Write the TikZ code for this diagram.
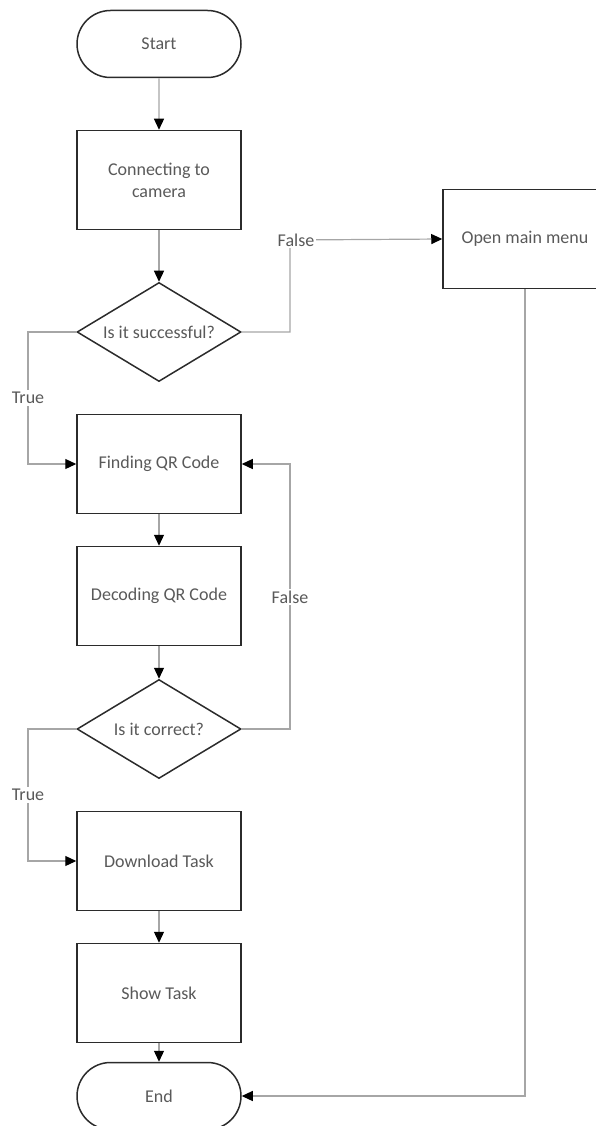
\documentclass[tikz,border=0pt]{standalone}
\usepackage{fontspec}
\setmainfont{Carlito}
\usetikzlibrary{arrows.meta, shapes.geometric, shapes.misc}
\definecolor{DGray}{HTML}{2B2B2B}
\definecolor{LGray}{HTML}{A6A6A6}
\definecolor{TGray}{HTML}{595959}

\begin{document}
\begin{tikzpicture}[x=1pt, y=-1pt,
    font=\fontsize{18}{22}\selectfont,
    box/.style={draw=DGray, line width=1.5pt, text=TGray, align=center,
        minimum width=164pt, minimum height=99pt, inner sep=0pt},
    terminal/.style={box, rounded rectangle, minimum height=67pt},
    decision/.style={box, diamond, aspect=1.66},
    flow/.style={LGray, line width=1.2pt,
        -{Triangle[length=11pt, width=10pt, color=black]}},
    lbl/.style={text=TGray, fill=white, inner sep=2pt}]
\useasboundingbox (0,0) rectangle (595,1126);

% main column
\node[terminal] (start) at (159,44) {Start};
\node[box] (connect) at (159,180) {Connecting to\\camera};
\node[decision] (succ) at (159,332) {Is it successful?};
\node[box] (find) at (159,464) {Finding QR Code};
\node[box] (decode) at (159,596) {Decoding QR Code};
\node[decision] (corr) at (159,729) {Is it correct?};
\node[box] (download) at (159,861) {Download Task};
\node[box] (show) at (159,993) {Show Task};
\node[terminal] (end) at (159,1096) {End};

% side branch
\node[box] (menu) at (525,239) {Open main menu};

\coordinate (succ-true) at (28,332);
\coordinate (succ-false) at (290,240);
\coordinate (corr-true) at (28,729);
\coordinate (corr-false) at (290,464);

\draw[flow] (start) -- (connect);
\draw[flow] (connect) -- (succ);
\draw[flow] (succ.east) -| (succ-false) -- (menu.west);
\draw[flow] (succ.west) -- (succ-true) |- (find.west);
\draw[flow] (find) -- (decode);
\draw[flow] (decode) -- (corr);
\draw[flow] (corr.east) -| (corr-false) -- (find.east);
\draw[flow] (corr.west) -- (corr-true) |- (download.west);
\draw[flow] (download) -- (show);
\draw[flow] (show) -- (end);
\draw[flow] (menu.south) |- (end.east);

\node[lbl] (succ-yes) at (28,398) {True};
\node[lbl] (succ-no) at (296,240) {False};
\node[lbl] (corr-no) at (290,597) {False};
\node[lbl] (corr-yes) at (28,795) {True};
\end{tikzpicture}
\end{document}
